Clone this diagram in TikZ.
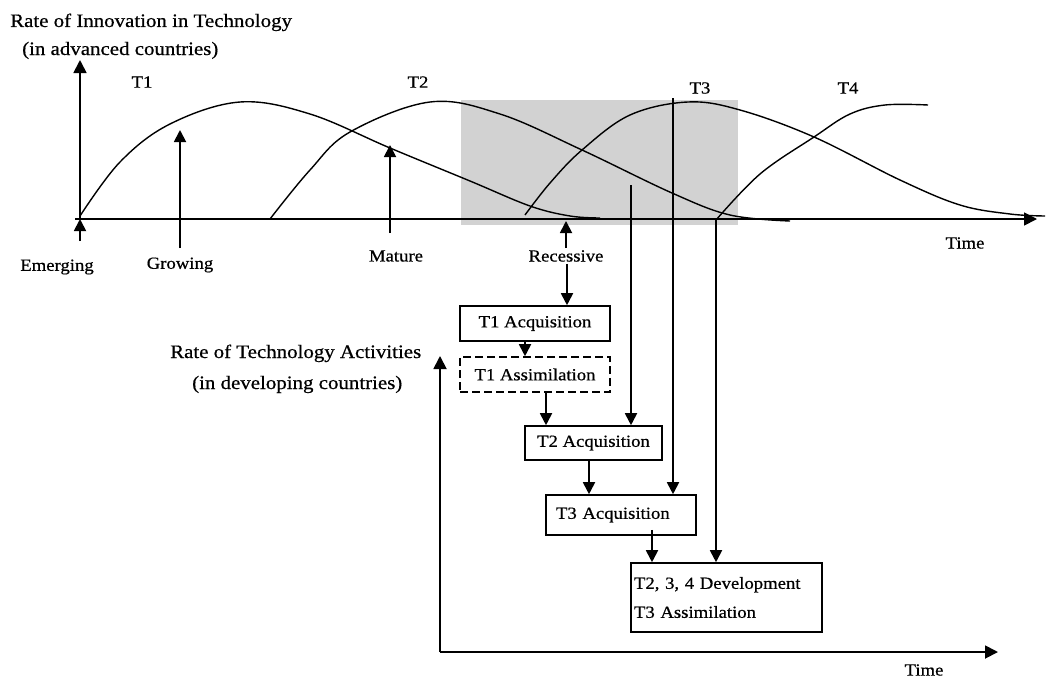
\documentclass[tikz,border=0pt]{standalone}
\usepackage{fontspec}
\setmainfont{Liberation Serif}[FakeStretch=1.1,FakeBold=0.6]
\usetikzlibrary{arrows.meta}
\begin{document}
\begin{tikzpicture}[x=1pt,y=-1pt,
  lbl/.style={font=\fontsize{17}{20}\selectfont, inner sep=0pt},
  ttl/.style={font=\fontsize{19}{22}\selectfont, inner sep=0pt, anchor=base west},
  arr/.style={line width=1.8pt, -{Triangle[length=12pt,width=12pt]}},
  axis/.style={line width=1.8pt, -{Triangle[length=13pt,width=13pt]}},
  curve/.style={line width=1.4pt},
  box/.style={draw, line width=1.6pt, font=\fontsize{17}{20}\selectfont, inner sep=0pt},
]
\useasboundingbox (0,0) rectangle (1048,680);

% shaded transition window
\fill[gray!35] (461,100) rectangle (738,225);

% upper chart: axes
\coordinate (o1) at (80,219);
\coordinate (ytop) at (80,60);
\coordinate (xend) at (1037,219);
\draw[axis] (o1) -- (ytop);
\draw[axis] (75,219) -- (xend);

\node[ttl] (ttlA) at (10,27) {Rate of Innovation in Technology};
\node[ttl] (ttlB) at (22,55) {(in advanced countries)};
\node[lbl] (timeA) at (965,243) {Time};

% technology life cycles
\draw[curve] plot[smooth, tension=0.6] coordinates {(80,216) (120,162) (170,124) (240,102) (310,114) (390,148) (470,181) (530,206) (570,216) (600,218)};
\draw[curve] plot[smooth, tension=0.6] coordinates {(270,219) (310,170) (350,132) (430,102) (500,114) (582,150) (672,193) (730,215) (790,221)};
\draw[curve] plot[smooth, tension=0.6] coordinates {(525,215) (550,183) (582,150) (630,115) (688,102) (740,110) (814,137) (900,180) (960,205) (1010,214) (1045,216)};
\draw[curve] plot[smooth, tension=0.6] coordinates {(716,220) (760,174) (814,137) (850,114) (885,105) (928,105)};

\node[lbl] (t1) at (142,82) {T1};
\node[lbl] (t2) at (418,82) {T2};
\node[lbl] (t3) at (700,88) {T3};
\node[lbl] (t4) at (848,88) {T4};

% life-cycle stages
\node[lbl] (emer) at (57,267) {Emerging};
\node[lbl] (grow) at (180,265) {Growing};
\node[lbl] (mat) at (396,256) {Mature};
\node[lbl] (rec) at (566,256) {Recessive};

\coordinate (emerB) at (80,241);
\coordinate (growB) at (180,248);
\coordinate (growT) at (180,130);
\coordinate (matB) at (390,233);
\coordinate (matT) at (390,145);
\coordinate (recB) at (566,248);
\coordinate (recT) at (566,221);
\draw[arr] (emerB) -- (o1);
\draw[arr] (growB) -- (growT);
\draw[arr] (matB) -- (matT);
\draw[arr] (recB) -- (recT);

% lower chart: axes
\coordinate (o2) at (440,652);
\coordinate (y2top) at (440,356);
\coordinate (x2end) at (998,652);
\draw[axis] (o2) -- (y2top);
\draw[axis] (o2) -- (x2end);
\node[ttl] (ttlC) at (170,358) {Rate of Technology Activities};
\node[ttl] (ttlD) at (192,389) {(in developing countries)};
\node[lbl] (timeB) at (924,670) {Time};

% activity boxes
\node[box, minimum width=150pt, minimum height=35pt] (acq1) at (535,323.5) {T1 Acquisition};
\node[box, dash pattern=on 8pt off 4pt, minimum width=150pt, minimum height=35pt] (ass1) at (535,374.5) {T1 Assimilation};
\node[box, minimum width=137pt, minimum height=34pt] (acq2) at (593.5,443) {T2 Acquisition};
\node[box, minimum width=150pt, minimum height=40pt, text width=130pt, align=left, inner xsep=10pt] (acq3) at (621,515) {T3 Acquisition};
\node[box, minimum width=191pt, minimum height=69pt, text width=185pt, align=left, inner xsep=3pt, font=\fontsize{17}{29}\selectfont] (dev) at (726.5,597.5) {T2, 3, 4 Development\\T3 Assimilation};

% flows between activities
\draw[arr] (rec.south -| acq1.north) ++(32,2) coordinate (recS) -- (recS |- acq1.north);
\draw[arr] ([xshift=-10pt]acq1.south) -- ([xshift=-10pt]ass1.north);
\draw[arr] ([xshift=11pt]ass1.south) -- ([xshift=11pt]ass1.south |- acq2.north);
\draw[arr] ([xshift=-4.5pt]acq2.south) -- ([xshift=-4.5pt]acq2.south |- acq3.north);
\draw[arr] ([xshift=31pt,yshift=6pt]acq3.south) -- ([xshift=31pt]acq3.south |- dev.north);

% drop lines from the upper chart
\coordinate (d2) at (631,185);
\coordinate (d3) at (673,98);
\coordinate (d4) at (716,219);
\draw[arr] (d2) -- (d2 |- acq2.north);
\draw[arr] (d3) -- (d3 |- acq3.north);
\draw[arr] (d4) -- (d4 |- dev.north);
\end{tikzpicture}
\end{document}
